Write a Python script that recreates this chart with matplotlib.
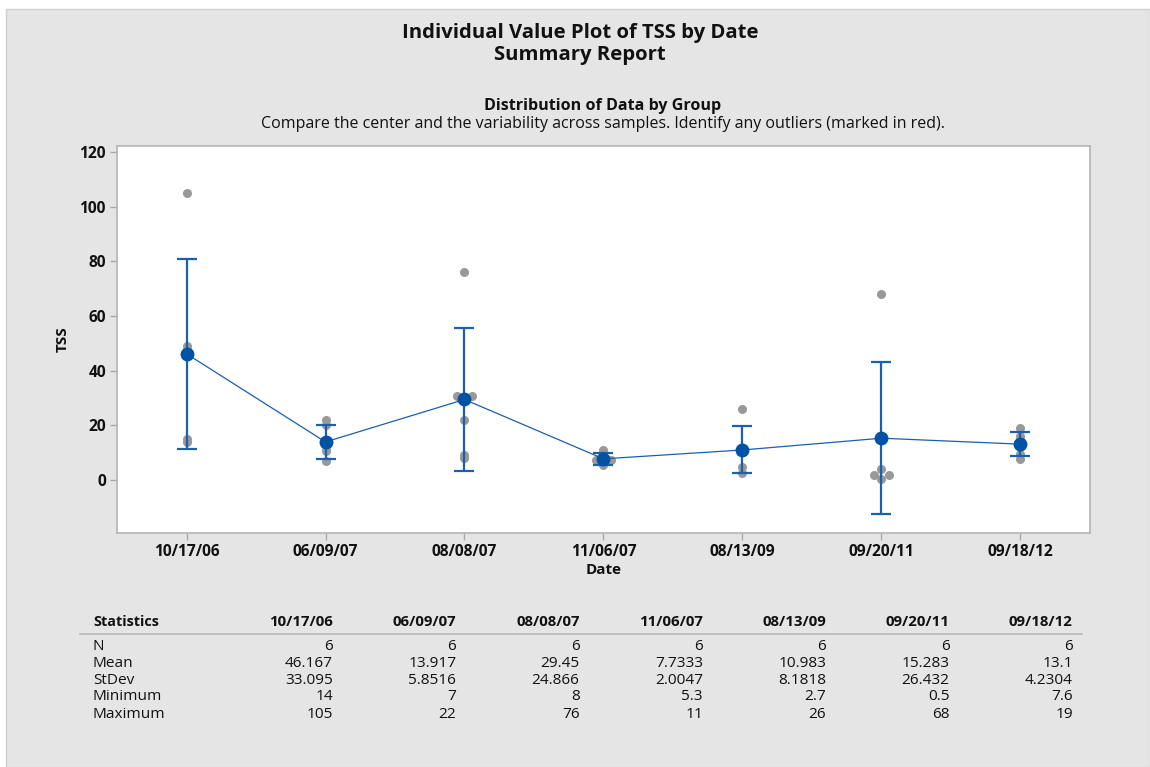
import numpy as np
import matplotlib
matplotlib.use("Agg")
import matplotlib.pyplot as plt
from matplotlib.patches import Rectangle
from matplotlib.lines import Line2D

plt.rcParams['font.family'] = ['Open Sans', 'DejaVu Sans']

# ---------------- data ----------------
dates = ["10/17/06", "06/09/07", "08/08/07", "11/06/07", "08/13/09", "09/20/11", "09/18/12"]
tss_1017_06 = [105, 49, 47.5, 46.5, 15, 14]
tss_0609_07 = [22, 20, 13, 11, 10.5, 7]
tss_0808_07 = [76, 30.7, 30.7, 22, 9.3, 8]
tss_1106_07 = [11, 9, 7.3, 7.3, 6.5, 5.3]
tss_0813_09 = [26, 11.5, 10.8, 10.2, 4.7, 2.7]
tss_0920_11 = [68, 15.8, 4, 1.7, 1.7, 0.5]
tss_0918_12 = [19, 16, 14.5, 12, 9.5, 7.6]
groups = [tss_1017_06, tss_0609_07, tss_0808_07, tss_1106_07, tss_0813_09, tss_0920_11, tss_0918_12]

stat_n = [6, 6, 6, 6, 6, 6, 6]
stat_mean = [46.167, 13.917, 29.45, 7.7333, 10.983, 15.283, 13.1]
stat_stdev = [33.095, 5.8516, 24.866, 2.0047, 8.1818, 26.432, 4.2304]
stat_min = [14, 7, 8, 5.3, 2.7, 0.5, 7.6]
stat_max = [105, 22, 76, 11, 26, 68, 19]
t_crit = 2.5706  # t(0.975, df=5)

W, H = 1150, 767
fig = plt.figure(figsize=(W / 100, H / 100), dpi=100)
fig.patch.set_facecolor('white')

def fx(px):
    return px / W

def fy(py):
    return 1 - py / H

# gray panel background
fig.patches.append(Rectangle((fx(6), 0), 1 - fx(6), fy(9), transform=fig.transFigure,
                             facecolor='#e5e5e5', edgecolor='#cfcfcf', linewidth=1, zorder=-10))

# titles
fig.text(fx(580), fy(33), "Individual Value Plot of TSS by Date", ha='center', va='center',
         fontsize=14.6, fontweight='bold', color='#111111')
fig.text(fx(580), fy(55), "Summary Report", ha='center', va='center',
         fontsize=14.6, fontweight='bold', color='#111111')
fig.text(fx(603), fy(106), "Distribution of Data by Group", ha='center', va='center',
         fontsize=11.6, fontweight='bold', color='#111111')
fig.text(fx(603), fy(124), "Compare the center and the variability across samples. Identify any outliers (marked in red).",
         ha='center', va='center', fontsize=11.5, color='#111111')

# axes
ax = fig.add_axes([fx(117), fy(533), fx(1090) - fx(117), fy(146) - fy(533)])
ax.set_facecolor('white')
x = np.arange(len(dates))

blue_m = '#0052a5'
blue_l = '#1a5fb0'

for i, vals in enumerate(groups):
    vals = np.asarray(vals, dtype=float)
    offs = np.zeros(len(vals))
    uniq = {}
    for j, v in enumerate(vals):
        uniq.setdefault(v, []).append(j)
    for v, idx in uniq.items():
        k = len(idx)
        if k > 1:
            for m, j in enumerate(idx):
                offs[j] = (m - (k - 1) / 2) * 0.11
    ax.plot(x[i] + offs, vals, 'o', color='#999999', markersize=6.5, markeredgewidth=0, zorder=2)

means = np.array(stat_mean)
half = t_crit * np.array(stat_stdev) / np.sqrt(np.array(stat_n))
ax.errorbar(x, means, yerr=half, fmt='none', ecolor=blue_l, elinewidth=1.6, capsize=7.5,
            capthick=1.6, zorder=3)
ax.plot(x, means, '-', color=blue_l, linewidth=0.9, zorder=3)
ax.plot(x, means, 'o', color=blue_m, markersize=10, markeredgewidth=0, zorder=4)

ax.set_xlim(-0.5, 6.5)
ax.set_ylim(-19.4, 122.2)
ax.set_yticks([0, 20, 40, 60, 80, 100, 120])
ax.set_xticks(x)
ax.set_xticklabels(dates)
for lab in ax.get_xticklabels() + ax.get_yticklabels():
    lab.set_fontweight('bold')
    lab.set_fontsize(11.2)
    lab.set_color('#111111')
ax.tick_params(direction='out', length=5, width=1, color='#a8a8a8', pad=3)
for s in ax.spines.values():
    s.set_color('#b4b4b4')
    s.set_linewidth(1.2)

ax.set_xlabel("Date", fontsize=11, fontweight='bold', color='#111111', labelpad=2)
ax.set_ylabel("TSS", fontsize=11, fontweight='bold', color='#111111', labelpad=7)

# statistics table
col_right = [333 + i * 123.3 for i in range(len(dates))]
fig.text(fx(93), fy(622), "Statistics", ha='left', va='center', fontsize=10.4, fontweight='bold', color='#111111')
for i, d in enumerate(dates):
    fig.text(fx(col_right[i]), fy(622), d, ha='right', va='center', fontsize=10.8,
             fontweight='bold', color='#111111')
fig.lines.append(Line2D([fx(80), fx(1082)], [fy(634), fy(634)], transform=fig.transFigure,
                        color='#b8b8b8', linewidth=1.2))

rows = [("N", stat_n), ("Mean", stat_mean), ("StDev", stat_stdev),
        ("Minimum", stat_min), ("Maximum", stat_max)]
row_y = [647, 663.5, 680, 697, 714]
for (name, vals), yy in zip(rows, row_y):
    fig.text(fx(93), fy(yy), name, ha='left', va='center', fontsize=11.1, color='#111111')
    for i, v in enumerate(vals):
        fig.text(fx(col_right[i]), fy(yy), '%.5g' % v, ha='right', va='center',
                 fontsize=11.1, color='#111111')

fig.savefig("out.png", dpi=100, facecolor=fig.get_facecolor())
